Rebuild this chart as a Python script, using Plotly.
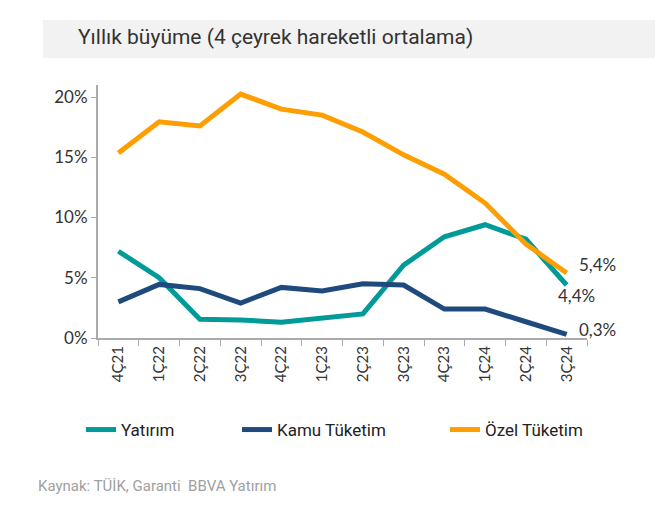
import plotly.graph_objects as go

categories = ["4Ç21", "1Ç22", "2Ç22", "3Ç22", "4Ç22", "1Ç23", "2Ç23", "3Ç23", "4Ç23", "1Ç24", "2Ç24", "3Ç24"]
yatirim = [7.2, 5.0, 1.55, 1.5, 1.3, 1.6, 2.0, 6.05, 8.4, 9.4, 8.2, 4.4]
kamu = [3.0, 4.45, 4.1, 2.9, 4.2, 3.9, 4.5, 4.4, 2.4, 2.4, 1.35, 0.3]
ozel = [15.35, 17.95, 17.6, 20.25, 19.0, 18.5, 17.1, 15.2, 13.6, 11.2, 7.8, 5.4]
series_names = ["Yatırım", "Kamu Tüketim", "Özel Tüketim"]
colors = ["#009b98", "#1f4a7d", "#ff9e00"]

title_font = "Roboto, sans-serif"
tick_font = "Lato, Open Sans, sans-serif"

# page offset (body margin) compensation
OX, OY = 8, 8
L, T, PW, PH = 98 - OX, 85 - OY, 489, 253


def px(x):
    return (x - OX - L) / PW


def py(y):
    return 1 - (y - OY - T) / PH


legend_ids = ["legend", "legend2", "legend3"]
legend_starts = [88, 244, 452]

fig = go.Figure()
for name, vals, col, lg in zip(series_names, [yatirim, kamu, ozel], colors, legend_ids):
    fig.add_trace(go.Scatter(x=categories, y=vals, name=name, mode="lines",
                             line=dict(color=col, width=5), legend=lg))

# end labels
fig.add_annotation(x=categories[-1], y=ozel[-1], text="5,4%", showarrow=False,
                   xanchor="left", yanchor="middle", xshift=10, yshift=8,
                   font=dict(size=17, color="#333", family=tick_font))
fig.add_annotation(x=categories[-1], y=yatirim[-1], text="4,4%", showarrow=False,
                   xanchor="center", yanchor="top", xshift=10, yshift=2,
                   font=dict(size=17, color="#333", family=tick_font))
fig.add_annotation(x=categories[-1], y=kamu[-1], text="0,3%", showarrow=False,
                   xanchor="left", yanchor="middle", xshift=10, yshift=5,
                   font=dict(size=17, color="#333", family=tick_font))

# title box
fig.add_shape(type="rect", xref="paper", yref="paper",
              x0=px(43), x1=px(655), y0=py(58), y1=py(20),
              fillcolor="#f2f2f2", line=dict(width=0), layer="below")
fig.add_annotation(xref="paper", yref="paper", x=px(76), y=py(37),
                   text="Yıllık büyüme (4 çeyrek hareketli ortalama)", showarrow=False,
                   xanchor="left", yanchor="middle",
                   font=dict(size=21, color="#333", family=title_font))
fig.add_annotation(xref="paper", yref="paper", x=px(36), y=py(486),
                   text="Kaynak: TÜİK, Garanti  BBVA Yatırım", showarrow=False,
                   xanchor="left", yanchor="middle",
                   font=dict(size=15, color="#a0a0a0", family=title_font))

legend_common = dict(orientation="h", xanchor="left", y=py(412), yanchor="top",
                     font=dict(size=17, color="#222", family=title_font),
                     itemwidth=30, bgcolor="rgba(0,0,0,0)")

fig.update_layout(
    width=670, height=514,
    margin=dict(l=L, r=670 - L - PW, t=T, b=514 - T - PH),
    paper_bgcolor="white", plot_bgcolor="white",
    showlegend=True,
    legend=dict(x=px(legend_starts[0] - 7), **legend_common),
    legend2=dict(x=px(legend_starts[1] - 7), **legend_common),
    legend3=dict(x=px(legend_starts[2] - 7), **legend_common),
    xaxis=dict(type="category", tickson="boundaries", ticks="outside", ticklen=6,
               tickcolor="#aaa", showline=True, linecolor="#aaa", linewidth=2,
               showgrid=False, tickangle=-90, tickfont=dict(size=15, color="#333", family=tick_font),
               range=[-0.5, 11.5], fixedrange=True),
    yaxis=dict(range=[0, 21], tickvals=[0, 5, 10, 15, 20],
               ticktext=["0%", "5%", "10%", "15%", "20%"], ticks="outside", ticklen=5,
               tickcolor="#aaa", showline=True, linecolor="#aaa", linewidth=2,
               showgrid=False, zeroline=False, tickfont=dict(size=17, color="#333", family=tick_font)),
)

fig.write_html("out.html")
